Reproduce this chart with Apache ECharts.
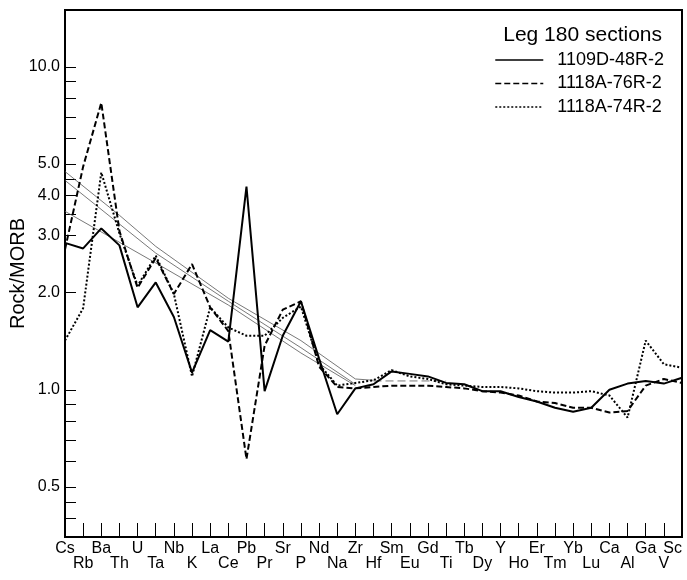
<!DOCTYPE html>
<html><head><meta charset="utf-8">
<script src="https://cdn.jsdelivr.net/npm/echarts@6/dist/echarts.min.js"></script>
<style>html,body{margin:0;padding:0;background:#fff}#c{width:687px;height:580px}</style>
</head><body><div id="c"></div>
<script>
const categories = ['Cs','Rb','Ba','Th','U','Ta','Nb','K','La','Ce','Pb','Pr','Sr','P','Nd','Na','Zr','Hf','Sm','Eu','Gd','Ti','Tb','Dy','Y','Ho','Er','Tm','Yb','Lu','Ca','Al','Ga','V','Sc'];
const s1109D_48R_2 = [2.85,2.74,3.16,2.80,1.80,2.15,1.68,1.13,1.53,1.41,4.26,0.99,1.47,1.88,1.25,0.84,1.01,1.04,1.14,1.12,1.10,1.05,1.04,0.99,0.99,0.95,0.92,0.88,0.855,0.88,1.00,1.045,1.065,1.045,1.09];
const s1118A_76R_2 = [2.72,4.91,7.74,3.10,2.07,2.56,1.98,2.45,1.80,1.52,0.61,1.37,1.77,1.88,1.18,1.02,1.01,1.02,1.03,1.03,1.03,1.02,1.01,0.99,0.98,0.96,0.92,0.91,0.88,0.88,0.85,0.86,1.03,1.08,1.05];
const s1118A_74R_2 = [1.42,1.79,4.71,3.05,2.10,2.60,1.98,1.10,1.80,1.56,1.47,1.47,1.67,1.81,1.20,1.03,1.05,1.07,1.15,1.10,1.08,1.04,1.03,1.02,1.02,1.01,0.99,0.98,0.98,0.99,0.96,0.82,1.42,1.20,1.17];
// thin reference lines (values read only where visible; gaps joined by straight segments)
const refA = [4.74,null,null,3.47,null,2.78,null,null,null,1.92,null,null,null,1.42,null,null,1.08,1.07];
const refB = [4.45,null,null,null,null,2.65,null,null,null,1.88,null,null,null,1.35,null,null,1.04];
const refC = [3.57,null,null,null,null,2.47,null,null,null,1.83,null,null,null,1.30,null,null,1.03];
const refTail = [null,null,null,null,null,null,null,null,null,null,null,null,null,null,null,null,null,1.065,null,null,null,1.065];
const yLabelValues = [0.5,1,2,3,4,5,10];
const yTickValues = [0.4,0.45,0.5,0.6,0.7,0.8,0.9,1,2,3,3.5,4,4.5,5,6,7,8,9,10];
const yMin = 0.35, yMax = 15;
const legendTitle = 'Leg 180 sections';
const seriesNames = ['1109D-48R-2','1118A-76R-2','1118A-74R-2'];

const FONT = '"Liberation Sans", Arial, Helvetica, sans-serif';
const chart = echarts.init(document.getElementById('c'), null, {renderer:'canvas'});
function main(name, data, type, w){
  return {name, type:'line', data, yAxisIndex:0, showSymbol:false, symbol:'none', animation:false,
    lineStyle:{color:'#000', width:w, type}, itemStyle:{color:'#000'}, z:5};
}
function thin(data, type){
  return {type:'line', data, yAxisIndex:0, connectNulls:true, showSymbol:false, symbol:'none', animation:false, silent:true,
    lineStyle:{color:'#555', width:0.8, type}, z:3};
}
chart.setOption({
  animation:false,
  title:{text:legendTitle, right:25, top:25, padding:0, textStyle:{fontFamily:FONT, fontSize:21, fontWeight:'normal', color:'#000'}},
  legend:{data:seriesNames, orient:'vertical', right:23, top:51, itemWidth:48, itemHeight:14, itemGap:5.5, padding:0,
    itemStyle:{opacity:0},
    lineStyle:{width:1.5},
    textStyle:{fontFamily:FONT, fontSize:18, color:'#000', padding:[0,0,0,9]}},
  grid:{left:65, right:5, top:10, bottom:43, show:true, borderColor:'#000', borderWidth:2, containLabel:false, outerBoundsMode:'none'},
  xAxis:{type:'category', data:categories, boundaryGap:false,
    axisLine:{onZero:false, lineStyle:{color:'#000', width:2}},
    axisTick:{inside:true, length:14, interval:0, lineStyle:{color:'#000', width:1}},
    axisLabel:{interval:0, margin:4, fontFamily:FONT, fontSize:16, color:'#000', lineHeight:15, alignMaxLabel:'right',
      formatter:(v,i)=> i%2 ? '\n'+v : v+'\n'}},
  yAxis:[{type:'log', logBase:10, min:yMin, max:yMax,
    name:'Rock/MORB', nameLocation:'middle', nameGap:37, nameRotate:90, nameMoveOverlap:false,
    nameTextStyle:{fontFamily:FONT, fontSize:20, color:'#000'},
    axisLine:{show:true, lineStyle:{color:'#000', width:2}},
    splitLine:{show:false},
    axisTick:{show:false},
    axisLabel:{customValues:yLabelValues, margin:5, fontFamily:FONT, fontSize:16, color:'#000', formatter:v=>Number(v).toFixed(1)}},
   {type:'value', min:Math.log10(yMin), max:Math.log10(yMax), position:'left',
    axisLine:{show:false, onZero:false}, splitLine:{show:false}, axisLabel:{show:false},
    axisTick:{show:true, inside:true, length:11, customValues:yTickValues.map(v=>Math.log10(v)), lineStyle:{color:'#000', width:1}}}],
  series:[
    thin(refA,'solid'), thin(refB,'solid'), thin(refC,'solid'), thin(refTail,[8,4]),
    main(seriesNames[0], s1109D_48R_2, 'solid', 2),
    main(seriesNames[1], s1118A_76R_2, [6,3], 2),
    main(seriesNames[2], s1118A_74R_2, [2,2], 2)
  ]
});
</script></body></html>
